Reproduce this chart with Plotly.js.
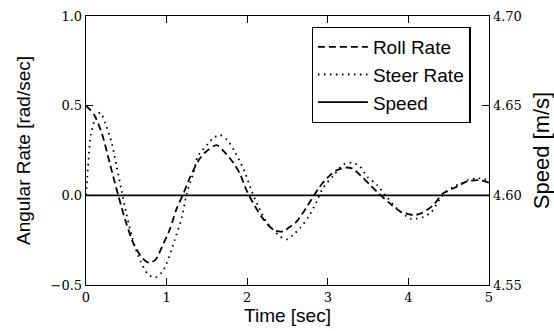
<!DOCTYPE html>
<html>
<head>
<meta charset="utf-8">
<script src="https://cdn.plot.ly/plotly-3.0.1.min.js"></script>
<style>html,body{margin:0;padding:0;background:#fff;}#chart{width:554px;height:331px;}</style>
</head>
<body>
<div id="chart"></div>
<script>
// Roll rate (dashed)
const rollTime = [0, 0.1, 0.2, 0.3, 0.4, 0.5, 0.6, 0.7, 0.78, 0.86, 0.96, 1.04, 1.12, 1.21, 1.29, 1.4, 1.48, 1.62, 1.70, 1.83, 1.91, 1.99, 2.10, 2.18, 2.28, 2.37, 2.45, 2.53, 2.61, 2.74, 2.90, 3.0, 3.11, 3.22, 3.30, 3.40, 3.52, 3.63, 3.77, 3.90, 4.06, 4.16, 4.31, 4.43, 4.60, 4.72, 4.87, 5.0];
const rollRate = [0.50, 0.45, 0.34, 0.17, 0.0, -0.156, -0.28, -0.35, -0.376, -0.36, -0.27, -0.19, -0.08, 0.011, 0.10, 0.197, 0.24, 0.28, 0.25, 0.18, 0.12, 0.03, -0.064, -0.12, -0.175, -0.2, -0.2, -0.175, -0.148, -0.064, 0.048, 0.1, 0.14, 0.155, 0.15, 0.113, 0.06, 0.011, -0.045, -0.09, -0.11, -0.10, -0.054, 0.011, 0.048, 0.076, 0.085, 0.07];
// Steer rate (dotted)
const steerTime = [0, 0.016, 0.037, 0.06, 0.1, 0.13, 0.18, 0.24, 0.32, 0.38, 0.44, 0.50, 0.57, 0.65, 0.77, 0.86, 0.94, 1.0, 1.10, 1.19, 1.25, 1.33, 1.39, 1.52, 1.58, 1.66, 1.75, 1.85, 1.97, 2.05, 2.14, 2.24, 2.32, 2.41, 2.49, 2.57, 2.66, 2.76, 2.86, 2.94, 3.07, 3.19, 3.30, 3.40, 3.49, 3.61, 3.73, 3.85, 4.02, 4.10, 4.19, 4.29, 4.41, 4.56, 4.66, 4.74, 4.87, 5.0];
const steerRate = [0.0, 0.1, 0.235, 0.337, 0.41, 0.448, 0.461, 0.40, 0.29, 0.16, 0.03, -0.10, -0.23, -0.34, -0.44, -0.458, -0.43, -0.38, -0.25, -0.12, 0.01, 0.12, 0.22, 0.29, 0.32, 0.336, 0.31, 0.24, 0.13, 0.03, -0.064, -0.15, -0.19, -0.23, -0.246, -0.22, -0.18, -0.12, -0.036, 0.04, 0.11, 0.17, 0.182, 0.16, 0.104, 0.058, -0.008, -0.07, -0.129, -0.13, -0.12, -0.09, -0.008, 0.048, 0.067, 0.085, 0.095, 0.085];
// Speed (solid, right axis)
const speedTime = [0, 5];
const speed = [4.60, 4.60];

const xTicks = [0, 1, 2, 3, 4, 5];
const yTicks = [-0.5, 0.0, 0.5, 1.0];
const yTickText = ['\u22120.5', '0.0', '0.5', '1.0'];
const y2Ticks = [4.55, 4.60, 4.65, 4.70];
const y2TickText = ['4.55', '4.60', '4.65', '4.70'];

const serif = 'DejaVu Serif, serif';
const sans = 'Liberation Sans, Arial, sans-serif';

const traces = [
  {x: rollTime, y: rollRate, name: 'Roll Rate', mode: 'lines', line: {color: 'black', width: 1.8, dash: '7px,4px', shape: 'spline', smoothing: 0.8}},
  {x: steerTime, y: steerRate, name: 'Steer Rate', mode: 'lines', line: {color: 'black', width: 1.8, dash: '1.6px,4.4px', shape: 'spline', smoothing: 0.8}},
  {x: speedTime, y: speed, name: 'Speed', mode: 'lines', yaxis: 'y2', line: {color: 'black', width: 1.8}}
];

const layout = {
  width: 554, height: 331,
  margin: {l: 86, r: 65, t: 16, b: 46},
  paper_bgcolor: 'white', plot_bgcolor: 'white',
  showlegend: true,
  legend: {x: 0.56, y: 0.96, xanchor: 'left', yanchor: 'top', bgcolor: 'white', bordercolor: 'black', borderwidth: 1.2, itemwidth: 50, font: {family: sans, size: 19, color: 'black'}, tracegroupgap: 0},
  xaxis: {range: [0, 5], tickvals: xTicks, ticktext: xTicks.map(String), ticks: 'inside', ticklen: 7, tickwidth: 1, tickcolor: 'black', mirror: 'ticks', showline: true, linecolor: 'black', linewidth: 1.3, showgrid: false, zeroline: false, tickfont: {family: serif, size: 13, color: 'black'}, title: {text: 'Time [sec]', font: {family: sans, size: 19, color: 'black'}, standoff: 2}, automargin: false},
  yaxis: {range: [-0.5, 1.0], tickvals: yTicks, ticktext: yTickText, ticks: 'inside', ticklen: 7, tickwidth: 1, tickcolor: 'black', showline: true, linecolor: 'black', linewidth: 1.3, showgrid: false, zeroline: false, tickfont: {family: serif, size: 13, color: 'black'}, title: {text: 'Angular Rate [rad/sec]', font: {family: sans, size: 19, color: 'black'}, standoff: 15}, automargin: false},
  yaxis2: {overlaying: 'y', side: 'right', range: [4.55, 4.70], tickvals: y2Ticks, ticktext: y2TickText, ticks: 'inside', ticklen: 7, tickwidth: 1, tickcolor: 'black', showline: true, linecolor: 'black', linewidth: 1.3, showgrid: false, zeroline: false, tickfont: {family: serif, size: 13, color: 'black'}, title: {text: 'Speed [m/s]', font: {family: sans, size: 22, color: 'black'}, standoff: 42}, automargin: false}
};

Plotly.newPlot('chart', traces, layout, {displayModeBar: false, staticPlot: true});
</script>
</body>
</html>
